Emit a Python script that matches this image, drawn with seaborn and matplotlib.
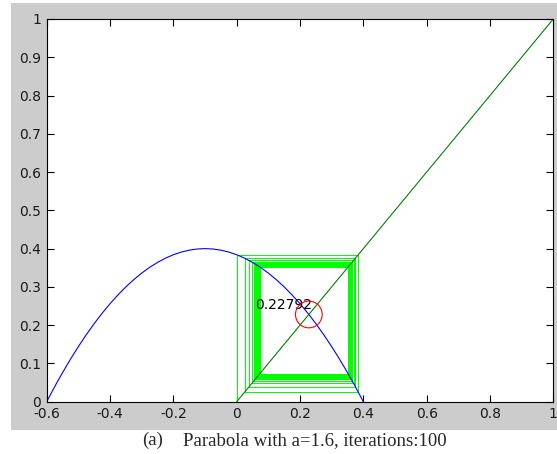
import matplotlib
matplotlib.use("Agg")
import matplotlib.pyplot as plt
import seaborn as sns
import pandas as pd
from matplotlib.patches import Rectangle

# ---- data ----
parab_x = [-0.6, -0.575, -0.55, -0.525, -0.5, -0.475, -0.45, -0.425, -0.4, -0.375,
           -0.35, -0.325, -0.3, -0.275, -0.25, -0.225, -0.2, -0.175, -0.15, -0.125,
           -0.1, -0.075, -0.05, -0.025, 0.0, 0.025, 0.05, 0.075, 0.1, 0.125,
           0.15, 0.175, 0.2, 0.225, 0.25, 0.275, 0.3, 0.325, 0.35, 0.375, 0.4]
parab_y = [0.0, 0.039, 0.076, 0.111, 0.144, 0.175, 0.204, 0.231, 0.256, 0.279,
           0.3, 0.319, 0.336, 0.351, 0.364, 0.375, 0.384, 0.391, 0.396, 0.399,
           0.4, 0.399, 0.396, 0.391, 0.384, 0.375, 0.364, 0.351, 0.336, 0.319,
           0.3, 0.279, 0.256, 0.231, 0.204, 0.175, 0.144, 0.111, 0.076, 0.039, 0.0]
diag_x = [0.0, 1.0]
diag_y = [0.0, 1.0]
iterates = [0.0, 0.384, 0.0252, 0.3749, 0.0391, 0.3690, 0.0480, 0.3650, 0.0541,
            0.3620, 0.0585, 0.3598, 0.0617, 0.3582, 0.0642, 0.3569, 0.0660, 0.3559,
            0.0674, 0.3551, 0.0686, 0.3545, 0.0694, 0.3541, 0.0701, 0.3537, 0.0707,
            0.3534, 0.0711, 0.3532, 0.0714, 0.3530, 0.0717, 0.3528, 0.0719, 0.3527,
            0.0721, 0.3526, 0.0722, 0.3525, 0.0723, 0.3524, 0.0724, 0.3523, 0.0725,
            0.3523, 0.0726, 0.3523, 0.0727]
fixed_point = 0.22792
fixed_label = "0.22792"
x_ticks = [-0.6, -0.4, -0.2, 0, 0.2, 0.4, 0.6, 0.8, 1]
x_tick_labels = ["-0.6", "-0.4", "-0.2", "0", "0.2", "0.4", "0.6", "0.8", "1"]
y_ticks = [0, 0.1, 0.2, 0.3, 0.4, 0.5, 0.6, 0.7, 0.8, 0.9, 1]
y_tick_labels = ["0", "0.1", "0.2", "0.3", "0.4", "0.5", "0.6", "0.7", "0.8", "0.9", "1"]
caption_tag = "(a)"
caption = "Parabola with a=1.6, iterations:100"

# cobweb path built from the iterates
cw_x = [iterates[0]]
cw_y = [0.0]
for i in range(len(iterates) - 1):
    cw_x += [iterates[i], iterates[i + 1]]
    cw_y += [iterates[i + 1], iterates[i + 1]]
cobweb = pd.DataFrame({"x": cw_x, "y": cw_y})
parab = pd.DataFrame({"x": parab_x, "y": parab_y})
diag = pd.DataFrame({"x": diag_x, "y": diag_y})

sns.set_style("white")
plt.rcParams["font.family"] = ["DejaVu Sans"]

fig = plt.figure(figsize=(5.57, 4.54), dpi=100)
fig.patch.set_facecolor("white")
fig.patches.append(Rectangle((11 / 557, 1 - 430 / 454), 546 / 557, 427 / 454,
                             transform=fig.transFigure, facecolor="#cccccc",
                             edgecolor="none", zorder=-10))

ax = fig.add_axes([46.7 / 557, (454 - 401.7) / 454, 506.6 / 557, 382.7 / 454])
ax.set_facecolor("white")

sns.lineplot(data=cobweb, x="x", y="y", sort=False, estimator=None,
             color="#00ff00", linewidth=0.72, antialiased=False, ax=ax)
sns.lineplot(data=parab, x="x", y="y", sort=False, estimator=None,
             color="#0000ff", linewidth=0.8, ax=ax)
sns.lineplot(data=diag, x="x", y="y", sort=False, estimator=None,
             color="#008000", linewidth=0.8, ax=ax)
sns.scatterplot(x=[fixed_point], y=[fixed_point], ax=ax, s=370, marker="o",
                facecolors="none", edgecolors="#ff0000", linewidths=0.8, zorder=5)
ax.text(0.058, 0.2525, fixed_label, ha="left", va="center", fontsize=10,
        color="black")

ax.set_xlim(-0.6, 1)
ax.set_ylim(0, 1)
ax.set_xticks(x_ticks)
ax.set_xticklabels(x_tick_labels)
ax.set_yticks(y_ticks)
ax.set_yticklabels(y_tick_labels)
ax.set_xlabel("")
ax.set_ylabel("")
ax.tick_params(direction="in", length=5, width=0.8, labelsize=10, pad=4,
               top=True, right=True, bottom=True, left=True, colors="black",
               labelcolor="#1a1a1a")
for s in ax.spines.values():
    s.set_visible(True)
    s.set_color("black")
    s.set_linewidth(0.8)

fig.text(142 / 557, 1 - 445 / 454, caption_tag, ha="left", va="baseline",
         fontsize=13.5, family="Liberation Serif")
fig.text(183 / 557, 1 - 445 / 454, caption, ha="left", va="baseline",
         fontsize=13.5, family="Liberation Serif")

fig.savefig("out.png", dpi=100)
